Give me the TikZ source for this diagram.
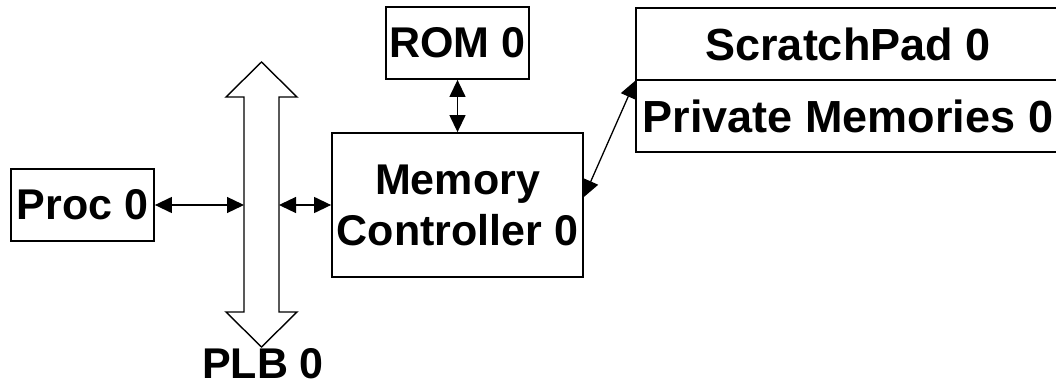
\documentclass[tikz,border=0pt]{standalone}
\usepackage{fontspec}
\setmainfont{Liberation Sans}
\usetikzlibrary{arrows.meta,calc}
\begin{document}
\begin{tikzpicture}[x=1pt,y=-1pt,
  blockbox/.style={draw=black,line width=1.8pt,fill=white,inner sep=0pt,
    font=\fontsize{43}{51}\selectfont\bfseries,align=center},
  bigtext/.style={font=\fontsize{45}{51}\selectfont\bfseries},
  link/.style={line width=1.3pt,{Triangle[length=17pt,width=16pt]}-{Triangle[length=17pt,width=16pt]}},
  lbl/.style={font=\fontsize{43}{51}\selectfont\bfseries,inner sep=0pt}]
\useasboundingbox (0,0) rectangle (1056,385);
\clip (0,0) rectangle (1056,385);

% processor, ROM and memory controller
\node[blockbox,minimum width=143pt,minimum height=72pt] (proc) at (82.5,205) {Proc 0};
\node[blockbox,minimum width=143pt,minimum height=72pt] (rom) at (457.5,43) {ROM 0};
\node[blockbox,minimum width=251pt,minimum height=144pt] (mc) at (457.5,205) {Memory\\Controller 0};

% scratchpad over private memories
\node[blockbox,bigtext,minimum width=424pt,minimum height=72pt] (sp) at (848,44) {ScratchPad 0};
\node[blockbox,bigtext,minimum width=424pt,minimum height=72pt] (pm) at (848,116) {Private Memories 0};

% PLB bus as a hollow double arrow
\draw[line width=1.4pt,fill=white]
  (261.5,62) -- (297,97) -- (279,97) -- (279,312) -- (297,312) -- (261.5,347)
  -- (226,312) -- (244,312) -- (244,97) -- (226,97) -- cycle;
\coordinate (busL) at (244,205);
\coordinate (busR) at (279,205);
\node[lbl,anchor=base] (plb) at (263,378) {PLB 0};

% connections
\draw[link] (proc.east) -- (busL);
\draw[link] (busR) -- (mc.west);
\draw[link] (rom.south) -- (mc.north);
\draw[link] ($(mc.east)+(0,-8)$) -- (sp.south west);
\end{tikzpicture}
\end{document}
